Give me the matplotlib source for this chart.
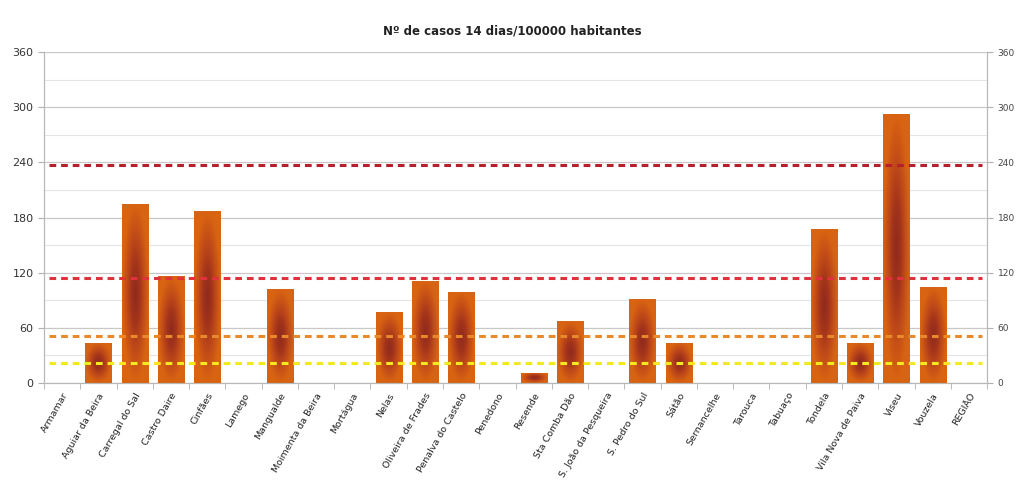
import numpy as np
import matplotlib
matplotlib.use('Agg')
import matplotlib.pyplot as plt
from matplotlib.colors import LinearSegmentedColormap

# Concelhos e incidência a 14 dias por 100000 habitantes
concelhos = ["Armamar", "Aguiar da Beira", "Carregal do Sal", "Castro Daire", "Cinfães",
             "Lamego", "Mangualde", "Moimenta da Beira", "Mortágua", "Nelas",
             "Oliveira de Frades", "Penalva do Castelo", "Penedono", "Resende",
             "Sta Comba Dão", "S. João da Pesqueira", "S. Pedro do Sul", "Sátão",
             "Sernancelhe", "Tarouca", "Tabuaço", "Tondela", "Vila Nova de Paiva",
             "Viseu", "Vouzela", "REGIÃO"]
casos = [0, 44, 195, 116, 187, 0, 102, 0, 0, 77, 111, 99, 0, 11, 67, 0, 91, 44,
         0, 0, 0, 168, 44, 293, 104, 0]

# Linhas de referência (valor, cor)
limiares = [237, 114, 51, 22]
cores_limiar = ["#b5202c", "#e0323c", "#e88a2c", "#f2ea1e"]

y_ticks = [0, 60, 120, 180, 240, 300, 360]

fig = plt.figure(figsize=(10.24, 4.91), dpi=100)
ax = fig.add_axes([0.043, 0.22, 0.921, 0.674])

x = np.arange(len(concelhos))
largura = 0.72

# gradiente radial das barras: centro escuro, bordas laranja
cmap = LinearSegmentedColormap.from_list("grad", ["#8e2a1e", "#a3341b", "#c24c18", "#d86412"])
gx, gy = np.meshgrid(np.linspace(-1, 1, 60), np.linspace(-1, 1, 120))
raio = np.clip(np.sqrt(gx**2 + gy**2), 0, 1)

barras = ax.bar(x, casos, width=largura, color="none", edgecolor="none", zorder=3)
for b, v in zip(barras, casos):
    if v <= 0:
        continue
    x0 = b.get_x()
    im = ax.imshow(raio, cmap=cmap, vmin=0, vmax=1, aspect="auto",
                   extent=[x0, x0 + b.get_width(), 0, v], zorder=3, interpolation="bilinear")
    im.set_clip_path(b)

for val, cor in zip(limiares, cores_limiar):
    ax.plot([-0.35, len(concelhos) - 0.65], [val, val], color=cor, linewidth=2.2,
            linestyle=(0, (2.2, 1.6)), zorder=4)

ax.set_xlim(-0.5, len(concelhos) - 0.5)
ax.set_ylim(0, 360)
ax.set_yticks(y_ticks)
ax.set_yticks(np.arange(30, 360, 60), minor=True)
ax.grid(True, axis="y", which="major", color="#c8c8c8", linewidth=0.9, zorder=0)
ax.grid(True, axis="y", which="minor", color="#e4e4e4", linewidth=0.8, zorder=0)
ax.tick_params(axis="y", which="minor", length=0)
ax.tick_params(axis="y", which="major", labelsize=8, colors="#333333", length=4, color="#b0b0b0")

ax.set_xticks(x)
ax.set_xticklabels(concelhos, rotation=60, ha="right", rotation_mode="anchor", fontsize=6.8, color="#222222")
ax.set_xticks(np.arange(-0.5, len(concelhos), 1), minor=True)
ax.tick_params(axis="x", which="major", length=0, pad=6)
ax.tick_params(axis="x", which="minor", length=4, color="#b0b0b0")

ax2 = ax.twinx()
ax2.set_ylim(0, 360)
ax2.set_yticks(y_ticks)
ax2.tick_params(axis="y", labelsize=6.5, colors="#444444", length=4, color="#b0b0b0")

for a in (ax, ax2):
    a.spines["top"].set_visible(False)
    for s in ["left", "right", "bottom"]:
        a.spines[s].set_color("#b8b8b8")

fig.text(0.5, 0.937, "Nº de casos 14 dias/100000 habitantes", ha="center", va="center",
         fontsize=8.5, fontweight="bold", color="#222222")

plt.savefig("out.png", facecolor="white")
plt.close()
